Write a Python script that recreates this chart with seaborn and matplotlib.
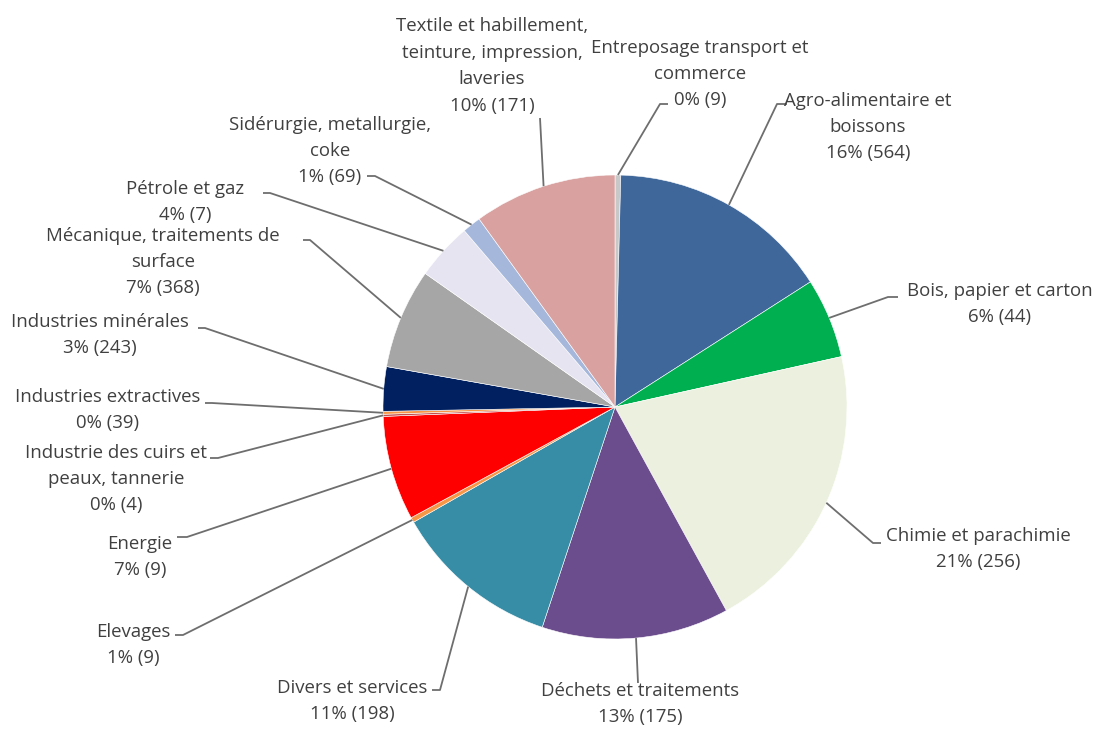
import matplotlib
matplotlib.use("Agg")
import matplotlib.pyplot as plt
import seaborn as sns
import numpy as np

# --- data (clockwise from 12 o'clock) ---
categories = [
    "Entreposage transport et\ncommerce",
    "Agro-alimentaire et\nboissons",
    "Bois, papier et carton",
    "Chimie et parachimie",
    "Déchets et traitements",
    "Divers et services",
    "Elevages",
    "Energie",
    "Industrie des cuirs et\npeaux, tannerie",
    "Industries extractives",
    "Industries minérales",
    "Mécanique, traitements de\nsurface",
    "Pétrole et gaz",
    "Sidérurgie, metallurgie,\ncoke",
    "Textile et habillement,\nteinture, impression,\nlaveries",
]
shares = [0.4, 15.6, 5.6, 20.6, 13.1, 11.7, 0.35, 7.3, 0.15, 0.2, 3.1, 7.0, 4.0, 1.3, 10.0]
pct_labels = ["0%", "16%", "6%", "21%", "13%", "11%", "1%", "7%", "0%", "0%", "3%", "7%", "4%", "1%", "10%"]
counts = [9, 564, 44, 256, 175, 198, 9, 9, 4, 39, 243, 368, 7, 69, 171]

colors = ["#C8C8C8", "#3F679A", "#00B050", "#EBF1DE", "#6B4C8C", "#378CA6", "#F79646",
          "#FF0000", "#C0504D", "#F79646", "#002060", "#A6A6A6", "#E6E4F1", "#A5B8DC", "#D9A1A0"]

# label layout in pixel coords (x, y from top): text centre, elbow point, end point
text_pos = [(700, 74), (868, 127), (1000, 304), (978, 549), (640, 704), (352, 701),
            (133, 645), (140, 557), (116, 479), (108, 410), (100, 335), (163, 262),
            (185, 202), (330, 151), (492, 66)]
elbow_pos = [(660, 104), (777, 104), (888, 297), (873, 543), (638, 683), (440, 690),
             (183, 635), (187, 537), (218, 458), (212, 403), (205, 328), (310, 240),
             (270, 193), (375, 176), (540, 118)]
end_pos = [(668, 104), (787, 104), (898, 297), (881, 543), (638, 683), (432, 690),
           (175, 635), (177, 537), (210, 458), (205, 403), (198, 328), (303, 240),
           (263, 193), (367, 176), (540, 118)]

W, H = 1102, 729
CX, CY, R = 615, 407, 232

sns.set_theme(style="white")
plt.rcParams["font.family"] = ["Open Sans", "DejaVu Sans"]

fig = plt.figure(figsize=(W / 100, H / 100), dpi=100)
ax = fig.add_axes([0, 0, 1, 1])

wedges, _ = ax.pie(shares, colors=colors, startangle=90, counterclock=False,
                   center=(CX, H - CY), radius=R,
                   wedgeprops=dict(linewidth=0.4, edgecolor="white"))

text_color = "#404040"
line_color = "#6E6E6E"
for w, cat, pct, n, tp, ep, en in zip(wedges, categories, pct_labels, counts,
                                       text_pos, elbow_pos, end_pos):
    mid = np.deg2rad((w.theta1 + w.theta2) / 2)
    ax_x = CX + R * np.cos(mid)
    ax_y = (H - CY) + R * np.sin(mid)
    ax.plot([ax_x, ep[0], en[0]], [ax_y, H - ep[1], H - en[1]],
            color=line_color, lw=1.3, solid_capstyle="butt")
    ax.text(tp[0], H - tp[1], f"{cat}\n{pct} ({n})", ha="center", va="center",
            fontsize=13.4, color=text_color, linespacing=1.6)

ax.set_xlim(0, W)
ax.set_ylim(0, H)
ax.set_aspect("equal")
ax.axis("off")

fig.savefig("out.png", dpi=100, facecolor="white")
